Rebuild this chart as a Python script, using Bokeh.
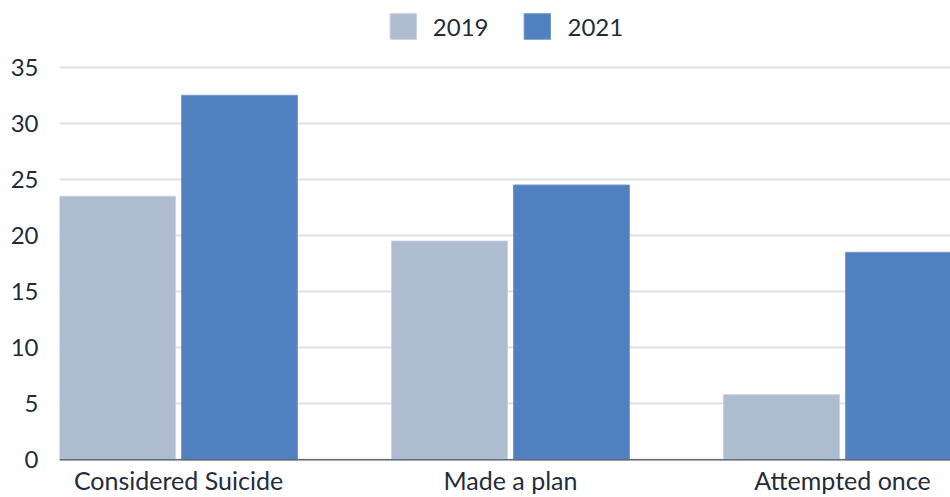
from bokeh.plotting import figure
from bokeh.models import ColumnDataSource, Range1d, FixedTicker, Legend, LegendItem, Span
from bokeh.core.properties import value
from bokeh.transform import dodge
from bokeh.embed import file_html
from bokeh.resources import INLINE

categories = ["Considered Suicide", "Made a plan", "Attempted once"]
series_names = ["2019", "2021"]
values_2019 = [23.5, 19.5, 5.8]
values_2021 = [32.5, 24.5, 18.5]
y_ticks = [0, 5, 10, 15, 20, 25, 30, 35]

colors = ["#adbccf", "#5080bf"]
text_color = "#1f2d3d"
FONT = "Lato"

src = ColumnDataSource(dict(
    x=list(range(len(categories))),
    cat=categories,
    v2019=values_2019,
    v2021=values_2021,
))

p = figure(width=950, height=497, output_backend="svg", toolbar_location=None,
           x_range=Range1d(-0.3584, 2.3253), y_range=Range1d(-3.361, 40.95),
           min_border_left=59, min_border_right=0, min_border_top=0,
           min_border_bottom=0)
p.outline_line_color = None
p.background_fill_color = "white"
p.border_fill_color = "white"

p.xgrid.grid_line_color = None
p.ygrid.grid_line_color = "#dde1e6"
p.ygrid.grid_line_width = 2
p.ygrid.ticker = FixedTicker(ticks=y_ticks)

bw = 0.349
off = 0.1837
r1 = p.vbar(x=dodge("x", -off), top="v2019", bottom=0, width=bw, source=src,
            fill_color=colors[0], line_color="#c6d1de", line_width=1)
r2 = p.vbar(x=dodge("x", off), top="v2021", bottom=0, width=bw, source=src,
            fill_color=colors[1], line_color="#7399cc", line_width=1)

# baseline (category axis line)
p.add_layout(Span(location=0, dimension="width", line_color="#5f6b78", line_width=1.5))

# category labels
p.text(x="x", y=0, text="cat", source=src, text_align="center",
       text_baseline="alphabetic", y_offset=20, text_font=value(FONT),
       text_font_size="25px", text_color=text_color)

p.xaxis.visible = False

p.yaxis.ticker = FixedTicker(ticks=y_ticks)
p.yaxis.axis_line_color = None
p.yaxis.major_tick_line_color = None
p.yaxis.minor_tick_line_color = None
p.yaxis.major_label_text_font = FONT
p.yaxis.major_label_text_font_size = "24px"
p.yaxis.major_label_text_color = text_color
p.yaxis.major_label_standoff = 15

legend = Legend(items=[LegendItem(label=series_names[0], renderers=[r1]),
                       LegendItem(label=series_names[1], renderers=[r2])],
                location="top_center", orientation="horizontal")
legend.glyph_width = 33
legend.glyph_height = 32
legend.label_text_font = FONT
legend.label_text_font_size = "24px"
legend.label_text_color = text_color
legend.label_standoff = 14
legend.spacing = 32
legend.padding = 0
legend.margin = 10
legend.border_line_color = None
legend.background_fill_alpha = 0
p.add_layout(legend)

open("out.html", "w").write(file_html(p, INLINE))
